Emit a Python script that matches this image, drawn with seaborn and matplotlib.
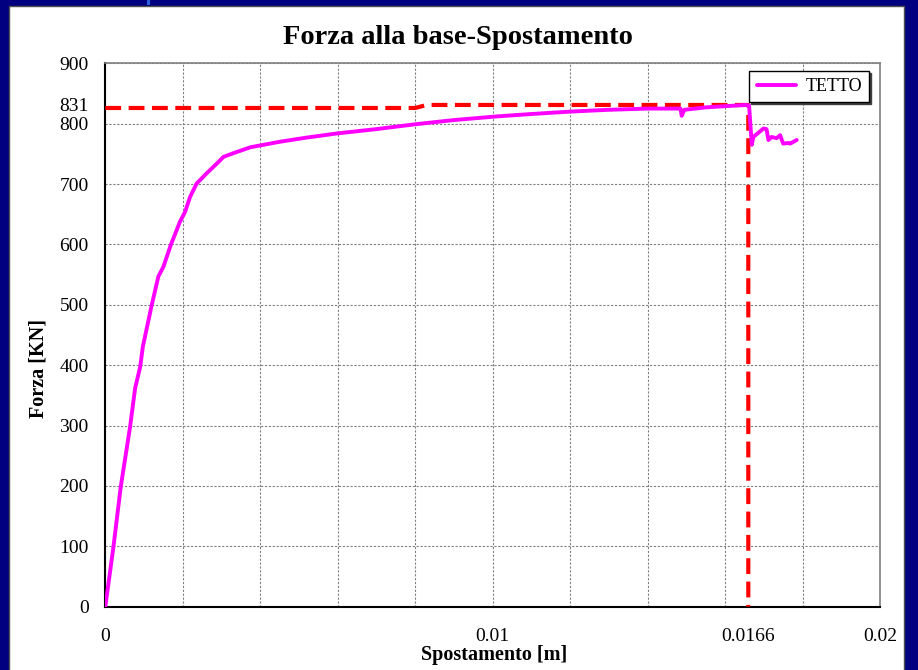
import matplotlib
matplotlib.use("Agg")
import matplotlib.pyplot as plt
import numpy as np
import pandas as pd
import seaborn as sns
from matplotlib.patches import Rectangle
from matplotlib.ticker import MultipleLocator, FixedLocator

# Pushover curve of the roof node (TETTO): base shear vs displacement
spostamento = [0.0, 0.00021, 0.00040, 0.00064, 0.00077, 0.00090, 0.00097, 0.00120,
               0.00137, 0.00150, 0.00169, 0.00193, 0.00206, 0.00219, 0.00236, 0.00262,
               0.00288, 0.00305, 0.00330, 0.00375, 0.0045, 0.0052, 0.0060, 0.0070,
               0.0080, 0.0090, 0.0101, 0.0110, 0.0120, 0.0130, 0.0140, 0.01485,
               0.01488, 0.01495, 0.0155, 0.0160, 0.01655, 0.01662, 0.01669, 0.01673,
               0.01690, 0.01699, 0.01707, 0.01712, 0.01720, 0.01733, 0.01742, 0.01750,
               0.01763, 0.01768, 0.01785]
forza = [0, 99, 199, 298, 362, 397, 431, 500,
         547, 563, 599, 638, 654, 679, 701, 718,
         734, 745, 751, 761, 770, 777, 784, 791,
         799, 806, 812, 816, 820, 823, 825, 825,
         813, 823, 827, 829, 831, 830, 765, 778,
         787, 792, 791, 773, 778, 776, 781, 767,
         768, 767, 773]

# Idealised bilinear envelope (dashed red)
bil_spost = [0.0, 0.0080, 0.0083, 0.0166, 0.0166]
bil_forza = [826, 826, 831, 831, 0]

x_tick_values = [0, 0.01, 0.0166, 0.02]
x_tick_labels = ["0", "0.01", "0.0166", "0.02"]
y_tick_values = [0, 100, 200, 300, 400, 500, 600, 700, 800, 831, 900]
y_tick_labels = ["0", "100", "200", "300", "400", "500", "600", "700", "800", "831", "900"]

curve = pd.DataFrame({"Spostamento": spostamento, "Forza": forza, "serie": "TETTO"})
envelope = pd.DataFrame({"Spostamento": bil_spost, "Forza": bil_forza})

sns.set_style("white")
plt.rcParams["font.family"] = ["Liberation Serif", "DejaVu Serif"]
for key in ("text.color", "axes.labelcolor", "xtick.color", "ytick.color"):
    plt.rcParams[key] = "black"

fig = plt.figure(figsize=(9.18, 6.70), dpi=100)
fig.patch.set_facecolor("#000080")
# white slide panel with a thin dark border
fig.patches.append(Rectangle((9 / 918, -0.01), (904 - 9) / 918, (664 / 670) + 0.01,
                             transform=fig.transFigure, facecolor="white",
                             edgecolor="#505050", linewidth=1.0, zorder=-5))
fig.patches.append(Rectangle((147 / 918, 665 / 670), 3 / 918, 5 / 670,
                             transform=fig.transFigure, facecolor="#2a5fe0",
                             edgecolor="none", zorder=-5))

ax = fig.add_axes([105.3 / 918, 63.3 / 670, (880 - 105.3) / 918, (606.7 - 63.3) / 670])
ax.set_facecolor("white")

sns.lineplot(data=envelope, x="Spostamento", y="Forza", ax=ax, sort=False,
             estimator=None, color="#ff0000", linewidth=3.0, zorder=3)
ax.lines[-1].set_dashes([3.8, 1.8])
sns.lineplot(data=curve, x="Spostamento", y="Forza", hue="serie",
             palette={"TETTO": "#ff00ff"}, ax=ax, sort=False, estimator=None,
             linewidth=2.8, zorder=4)

ax.set_xlim(0, 0.02)
ax.set_ylim(0, 900)

# grid on minor ticks, labels on major ticks
ax.xaxis.set_major_locator(FixedLocator(x_tick_values))
ax.set_xticklabels(x_tick_labels)
ax.xaxis.set_minor_locator(MultipleLocator(0.002))
ax.xaxis.remove_overlapping_locs = False
ax.yaxis.set_major_locator(FixedLocator(y_tick_values))
ax.set_yticklabels(y_tick_labels)
ax.yaxis.set_minor_locator(MultipleLocator(100))
ax.yaxis.remove_overlapping_locs = False

ax.grid(False, which="major")
ax.grid(True, which="minor", color="#808080", linestyle=(0, (2, 1.5)), linewidth=0.8)
ax.set_axisbelow(True)

ax.tick_params(axis="x", which="major", length=0, pad=15, labelsize=14)
ax.tick_params(axis="y", which="major", length=6, width=1.2, direction="out",
               pad=6, labelsize=14)
ax.tick_params(which="minor", length=0)

for side in ("left", "bottom"):
    ax.spines[side].set_color("black")
    ax.spines[side].set_linewidth(1.5)
for side in ("top", "right"):
    ax.spines[side].set_visible(True)
    ax.spines[side].set_color("#808080")
    ax.spines[side].set_linewidth(1.2)

ax.set_xlabel("Spostamento [m]", fontsize=14.5, fontweight="bold")
ax.set_ylabel("Forza [KN]", fontsize=14.5, fontweight="bold")
ax.xaxis.set_label_coords((494 - 105.3) / 774.7, -(655 - 606.7) / 543.4)
ax.xaxis.label.set_va("center")
ax.yaxis.set_label_coords(-(105.3 - 38) / 774.7, (606.7 - 369) / 543.4)
ax.yaxis.label.set_va("center")

fig.text(458 / 918, 1 - 38 / 670, "Forza alla base-Spostamento", fontsize=20.5,
         fontweight="bold", ha="center", va="center")

leg = ax.legend(loc="upper right", bbox_to_anchor=(0.986, 0.986), borderaxespad=0,
                frameon=True, fancybox=False, fontsize=13, handlelength=2.2,
                handletextpad=0.5, borderpad=0.4,
                shadow={"ox": 1.5, "oy": -1.5, "color": "#404040", "alpha": 1})
leg.get_frame().set_edgecolor("black")
leg.get_frame().set_linewidth(1.0)
leg.set_title(None)

fig.savefig("out.png", dpi=100, facecolor=fig.get_facecolor())
